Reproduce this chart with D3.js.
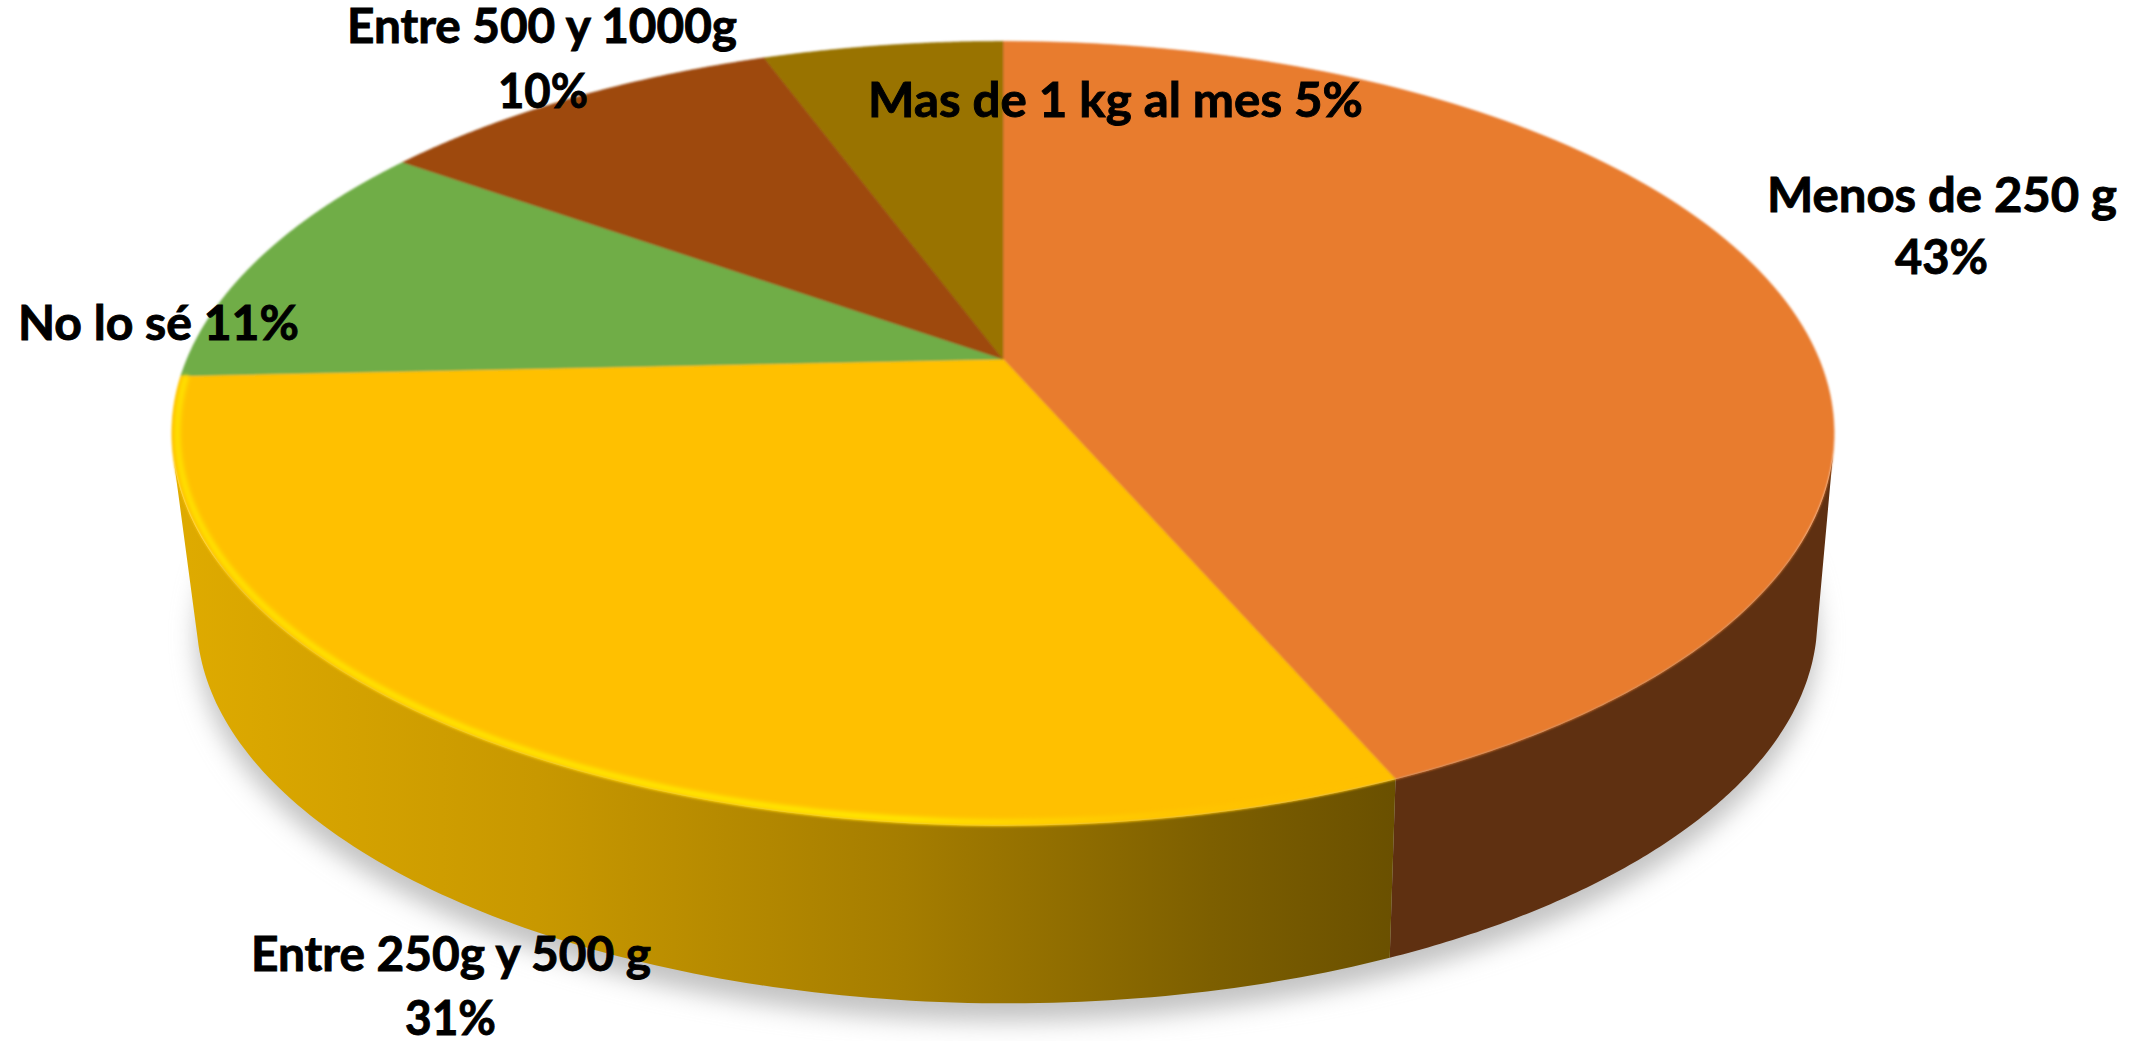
<!DOCTYPE html>
<html><head><meta charset="utf-8">
<script src="https://cdn.jsdelivr.net/npm/d3@7/dist/d3.min.js"></script>
<style>html,body{margin:0;padding:0;background:#fff;overflow:hidden}svg{display:block}</style>
</head><body>
<svg id="c" width="2148" height="1041"></svg>
<script>
const categories = ["Menos de 250 g","Entre 250g y 500 g","No lo sé","Entre 500 y 1000g","Mas de 1 kg al mes"];
const percentLabels = ["43%","31%","11%","10%","5%"];
const sliceShares = [43.5,30.8,10.5,9.6,5.6];
const topColors = ["#e87b2f","#ffc000","#70ad47","#9e480e","#997300"];

const svg=d3.select("#c");
const defs=svg.append("defs");
const cx=1003,cy=359,Rx=816,Ry=378,k=0.19,wallScaleX=0.975,wallScaleY=0.98,wallCx=1007,wallCy=546;
const sx=d3.scaleLinear().domain([0,1]).range([0,Rx]);
const sy=d3.scaleLinear().domain([0,1]).range([0,Ry]);
function proj(a,r=1){const x=r*Math.sin(a),y=-r*Math.cos(a),w=1-k*y;return [cx+sx(x/w),cy+sy(y/w)];}
function projBase(a){const [X,Y]=proj(a);return [wallCx+(X-cx)*wallScaleX,wallCy+(Y-cy)*wallScaleY];}
const line=d3.line();
const arcPts=(a0,a1,f)=>d3.range(0,121).map(i=>f(a0+(a1-a0)*i/120));
const pie=d3.pie().sort(null).value(d=>d).startAngle(0).endAngle(2*Math.PI);
const arcs=pie(sliceShares);

const blur=(id,s)=>defs.append("filter").attr("id",id).attr("x","-20%").attr("y","-20%").attr("width","140%").attr("height","140%")
  .append("feGaussianBlur").attr("stdDeviation",s);
blur("shadow",12);blur("soft",1);blur("rim",2);

const yg=defs.append("linearGradient").attr("id","yWall").attr("gradientUnits","userSpaceOnUse")
  .attr("x1",170).attr("x2",1395).attr("y1",0).attr("y2",0);
[[0,"#dfab00"],[.3,"#c89800"],[.6,"#a57d00"],[.85,"#7d5f00"],[1,"#6a5000"]].forEach(s=>yg.append("stop").attr("offset",s[0]).attr("stop-color",s[1]));
const rg=defs.append("linearGradient").attr("id","rimG").attr("gradientUnits","userSpaceOnUse")
  .attr("x1",170).attr("x2",1395).attr("y1",0).attr("y2",0);
[[0,"#ffe000",1],[.6,"#ffe800",1],[.8,"#ffd000",.5],[1,"#ffc000",0]].forEach(s=>rg.append("stop").attr("offset",s[0]).attr("stop-color",s[1]).attr("stop-opacity",s[2]));

// drop shadow under the base
const fullBase=arcPts(0,2*Math.PI,projBase).map(p=>[p[0],p[1]+18]);
svg.append("path").attr("d",line(fullBase)+"Z").attr("fill","#c2c2c2").attr("filter","url(#shadow)");

// visible side walls (between the two silhouette tangents)
const wallMin=104*Math.PI/180,wallMax=256*Math.PI/180;
const wallFill=["#5f3011","url(#yWall)"];
arcs.slice(0,2).forEach((d,i)=>{
  const a0=Math.max(d.startAngle,wallMin),a1=Math.min(d.endAngle,wallMax);
  const pts=arcPts(a0,a1,proj).concat(arcPts(a0,a1,projBase).reverse());
  svg.append("path").attr("d",line(pts)+"Z").attr("fill",wallFill[i]);
});

// top face
const face=svg.append("g").attr("filter","url(#soft)");
arcs.forEach((d,i)=>{
  const pts=[[cx,cy]].concat(arcPts(d.startAngle,d.endAngle,proj));
  face.append("path").attr("d",line(pts)+"Z").attr("fill",topColors[i]).attr("stroke",topColors[i]).attr("stroke-width",.6);
});

// bright rim on the front edge of the yellow slice
const yellowArc=arcs[1];
svg.append("path").attr("d",line(arcPts(yellowArc.startAngle,yellowArc.endAngle,a=>proj(a,0.9935))))
  .attr("fill","none").attr("stroke","url(#rimG)").attr("stroke-width",6).attr("filter","url(#rim)");

// labels
const labelLines=[
 [categories[3],347,737,43],[percentLabels[3],498,588,108],
 [categories[4]+" "+percentLabels[4],868,1363,117],
 [categories[0],1767,2117,212],[percentLabels[0],1895,1988,274],
 [categories[2]+" "+percentLabels[2],18,299,340],
 [categories[1],251,651,971],[percentLabels[1],405,496,1035]
];
svg.append("g").selectAll("text").data(labelLines).join("text")
  .attr("x",d=>d[1]).attr("y",d=>d[3])
  .attr("textLength",d=>d[2]-d[1]).attr("lengthAdjust","spacingAndGlyphs")
  .attr("font-family","Lato, 'Open Sans', sans-serif").attr("font-weight",700).attr("font-size",47)
  .attr("fill","#000").attr("stroke","#000").attr("stroke-width",0.9)
  .text(d=>d[0]);
</script>
</body></html>
